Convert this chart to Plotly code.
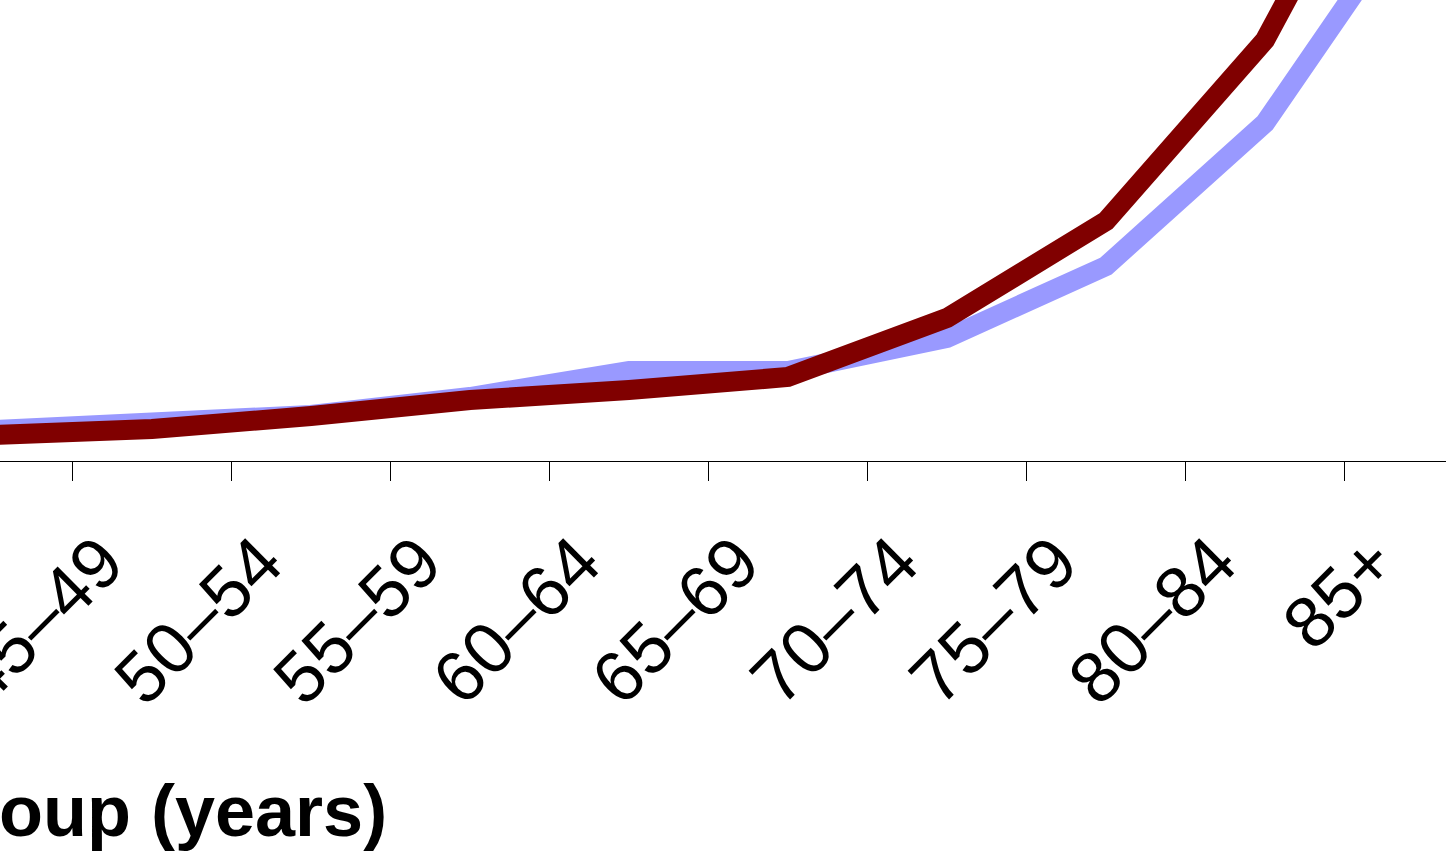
import plotly.graph_objects as go

age_groups = ["40–44", "45–49", "50–54", "55–59", "60–64", "65–69",
              "70–74", "75–79", "80–84", "85+"]
series_blue = [31, 38, 46, 64, 90, 90, 123, 195, 338, 569]
series_red = [26, 32, 45, 61, 71, 84, 143, 240, 421, 717]
x_title = "Age group (years)"

W, H = 1446, 853
plot_bottom = 461  # page y of x-axis line

fig = go.Figure()
fig.add_trace(go.Scatter(x=age_groups, y=series_blue, mode="lines",
                         line=dict(color="#9999FF", width=20),
                         showlegend=False, hoverinfo="skip"))
fig.add_trace(go.Scatter(x=age_groups, y=series_red, mode="lines",
                         line=dict(color="#800000", width=20),
                         showlegend=False, hoverinfo="skip"))

fig.update_layout(
    width=W, height=H,
    margin=dict(l=0, r=0, t=0, b=H - plot_bottom, pad=0, autoexpand=False),
    paper_bgcolor="white", plot_bgcolor="white",
    font=dict(family="Liberation Sans, Arial, sans-serif", color="black"),
    xaxis=dict(
        type="category",
        categoryorder="array", categoryarray=age_groups,
        range=[0.044, 9.138],
        automargin=False,
        tickson="boundaries",
        ticks="outside", ticklen=19, tickwidth=1, tickcolor="black",
        showline=True, linecolor="black", linewidth=1,
        showgrid=False, zeroline=False,
        tickangle=-45,
        ticklabelshift=-50, ticklabelstandoff=29,
        tickfont=dict(size=72, family="Liberation Sans, Arial, sans-serif", color="black"),
    ),
    yaxis=dict(visible=False, range=[0, 461], showgrid=False, zeroline=False,
               automargin=False),
    annotations=[dict(
        text=x_title, xref="paper", yref="paper",
        x=389 / W, y=(plot_bottom - 811) / plot_bottom,
        xanchor="right", yanchor="middle", showarrow=False,
        font=dict(size=72, family="Liberation Sans, Arial, sans-serif", color="black", weight="bold"),
    )],
)

fig.write_html("out.html", config={"displayModeBar": False},
               post_script="document.body.style.margin='0';document.body.style.overflow='hidden';")
